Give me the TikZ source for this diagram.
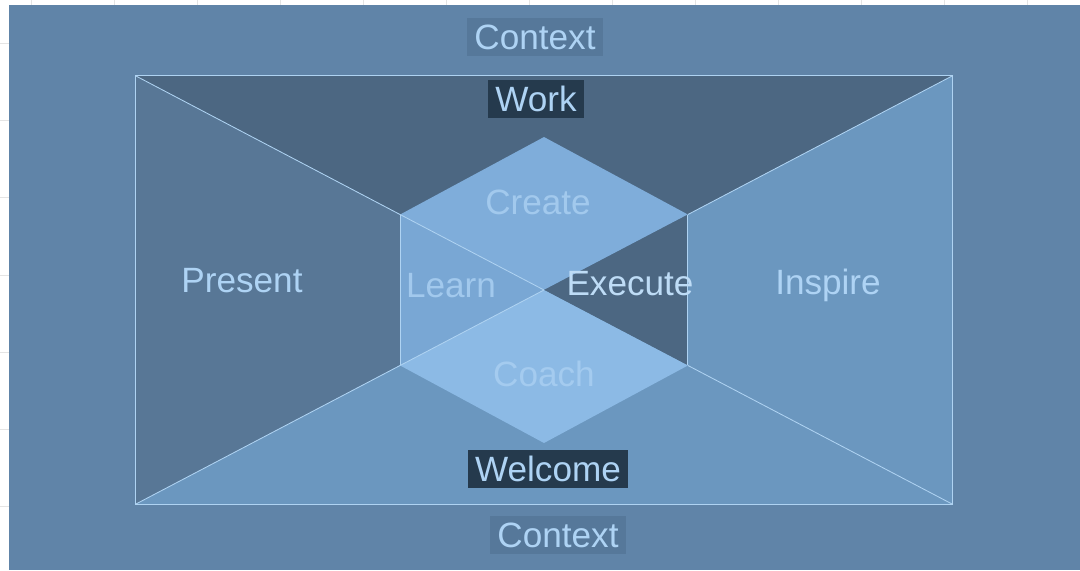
\documentclass[tikz,border=0pt]{standalone}
\usepackage{fontspec}
\setmainfont{Liberation Sans}
\usepackage{xcolor}
\usetikzlibrary{calc}

\definecolor{pagebg}{HTML}{6084A8}
\definecolor{gridgray}{HTML}{E4E4E4}
\definecolor{workdark}{HTML}{4C6782}
\definecolor{presentblue}{HTML}{587796}
\definecolor{inspireblue}{HTML}{6B97BF}
\definecolor{createblue}{HTML}{7FADDA}
\definecolor{learnblue}{HTML}{79A7D4}
\definecolor{coachblue}{HTML}{8CBAE5}
\definecolor{edgeblue}{HTML}{AFD3F2}
\definecolor{textblue}{HTML}{AED3F4}
\definecolor{tagdark}{HTML}{253A4D}
\definecolor{ctxfill}{HTML}{56789A}

\begin{document}
\begin{tikzpicture}
    \tikzstyle{gridline} = [draw=gridgray, line width=0.5pt]
    \tikzstyle{edge} = [draw=edgeblue, line width=0.6pt]
    \tikzstyle{regiontext} = [text=textblue, font=\fontsize{25}{30}\selectfont, inner sep=0pt, text height=0.63cm, text depth=0pt]
    \tikzstyle{fainttext} = [regiontext, text=textblue!75!createblue]
    \tikzstyle{tagbox} = [regiontext, fill=tagdark, inner xsep=0.18cm, inner ysep=0.16cm]
    \tikzstyle{ctxbox} = [tagbox, fill=ctxfill]

    \useasboundingbox (-13.6,-7.0) rectangle (13.4,7.25);

    % Sheet behind
    \fill[white] (-13.6,-7.0) rectangle (13.4,7.25);
    \foreach \gx in {31,114,...,1027}
        \draw[gridline] ({(\gx-544)/40},7.25) -- ({(\gx-544)/40},-7.0);
    \foreach \gy in {43,120.3,...,520}
        \draw[gridline] (-13.6,{(290-\gy)/40}) -- (13.4,{(290-\gy)/40});
    \fill[pagebg] (-13.375,-7.0) rectangle (13.4,7.125);

    % Frame and hexagon points
    \coordinate (c) at (0,0);
    \coordinate (tl) at (-10.22,5.36);
    \coordinate (tr) at (10.22,5.36);
    \coordinate (bl) at (-10.22,-5.36);
    \coordinate (br) at (10.22,-5.36);
    \coordinate (ul) at ($(c)!0.352!(tl)$);
    \coordinate (ur) at ($(c)!0.352!(tr)$);
    \coordinate (ll) at ($(c)!0.352!(bl)$);
    \coordinate (lr) at ($(c)!0.352!(br)$);
    \coordinate (ht) at (0,3.825);
    \coordinate (hb) at (0,-3.825);

    % Outer triangles
    \fill[workdark] (tl) -- (tr) -- (c) -- cycle;
    \fill[presentblue] (tl) -- (bl) -- (c) -- cycle;
    \fill[inspireblue] (tr) -- (br) -- (c) -- cycle;
    \fill[inspireblue] (bl) -- (br) -- (c) -- cycle;

    % Hexagon parts
    \fill[createblue] (ht) -- (ur) -- (c) -- (ul) -- cycle;
    \fill[learnblue] (ul) -- (c) -- (ll) -- cycle;
    \fill[workdark] (ur) -- (lr) -- (c) -- cycle;
    \fill[coachblue] (ll) -- (c) -- (lr) -- (hb) -- cycle;

    % Lines
    \draw[edge] (tl) -- (tr) -- (br) -- (bl) -- cycle;
    \draw[edge] (tl) -- (c);
    \draw[edge] (c) -- (bl);
    \draw[edge] (tr) -- (ur);
    \draw[edge] (lr) -- (br);
    \draw[edge] (ul) -- (ll);
    \draw[edge] (ur) -- (lr);

    % Labels
    \node[ctxbox] (ctxtop) at (-0.225,6.325) {Context};
    \node[tagbox] (work) at (-0.2,4.775) {Work};
    \node[fainttext] (create) at (-0.15,2.2) {Create};
    \node[regiontext] (present) at (-7.55,0.25) {Present};
    \node[fainttext] (learn) at (-2.325,0.125) {Learn};
    \node[regiontext, text=textblue!80!white] (execute) at (2.15,0.175) {Execute};
    \node[regiontext] (inspire) at (7.1,0.2) {Inspire};
    \node[fainttext, text=textblue!70!coachblue] (coach) at (0,-2.1) {Coach};
    \node[tagbox] (welcome) at (0.1,-4.475) {Welcome};
    \node[ctxbox] (ctxbottom) at (0.35,-6.125) {Context};
\end{tikzpicture}
\end{document}
